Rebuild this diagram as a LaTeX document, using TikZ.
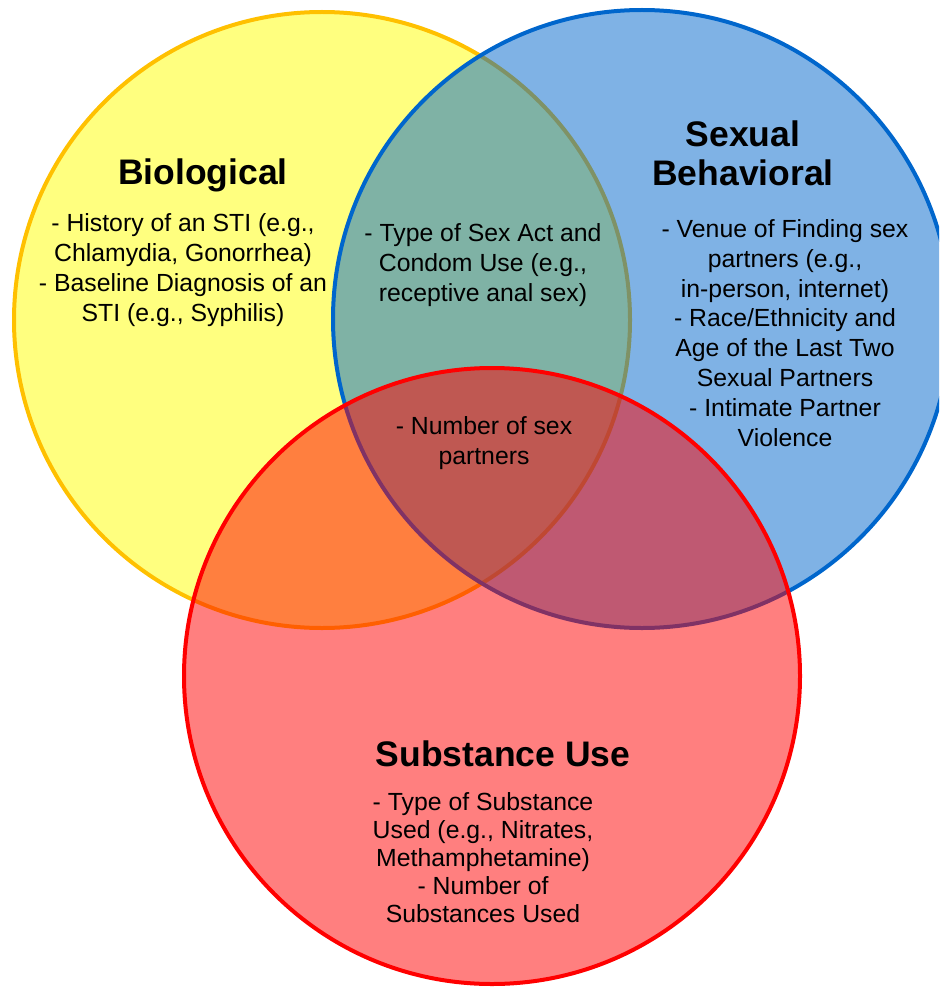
\documentclass[tikz,border=0pt]{standalone}
\usepackage{fontspec}
\setmainfont{Liberation Sans}
\definecolor{ystroke}{RGB}{255,192,0}
\definecolor{yfill}{RGB}{255,255,0}
\definecolor{bcol}{RGB}{0,102,204}
\definecolor{rcol}{RGB}{255,0,0}
\begin{document}
\begin{tikzpicture}[x=1pt,y=-1pt,
  setcircle/.style={line width=4pt,fill opacity=0.5},
  title/.style={font=\fontsize{35.5}{39}\selectfont\bfseries,align=center,inner sep=0pt},
  body/.style={font=\fontsize{24.8}{29.8}\selectfont,align=center,inner sep=0pt},
  bodyred/.style={font=\fontsize{24.8}{28}\selectfont,align=center,inner sep=0pt}]
\useasboundingbox (0,0) rectangle (939,987);
\clip (0,0) rectangle (939,987);
\draw[setcircle,draw=ystroke,fill=yfill] (322,320) circle[radius=308];
\draw[setcircle,draw=bcol,fill=bcol] (642,319) circle[radius=309];
\draw[setcircle,draw=rcol,fill=rcol] (492,676) circle[radius=308];

\node[title] (bio) at (203,175) {Biological};
\node[body] (biotext) at (183,270) {- History of an STI (e.g.,\\Chlamydia, Gonorrhea)\\- Baseline Diagnosis of an\\STI (e.g., Syphilis)};
\node[title] (sex) at (743,153) {Sexual\\Behavioral};
\node[body] (sextext) at (785,333) {- Venue of Finding sex\\partners (e.g.,\\in-person, internet)\\- Race/Ethnicity and\\Age of the Last Two\\Sexual Partners\\- Intimate Partner\\Violence};
\node[body] (bs) at (483,265) {- Type of Sex Act and\\Condom Use (e.g.,\\receptive anal sex)};
\node[body] (all) at (484,443) {- Number of sex\\partners};
\node[title] (sub) at (503,754) {Substance Use};
\node[bodyred] (subtext) at (483,858) {- Type of Substance\\Used (e.g., Nitrates,\\Methamphetamine)\\- Number of\\Substances Used};
\end{tikzpicture}
\end{document}
